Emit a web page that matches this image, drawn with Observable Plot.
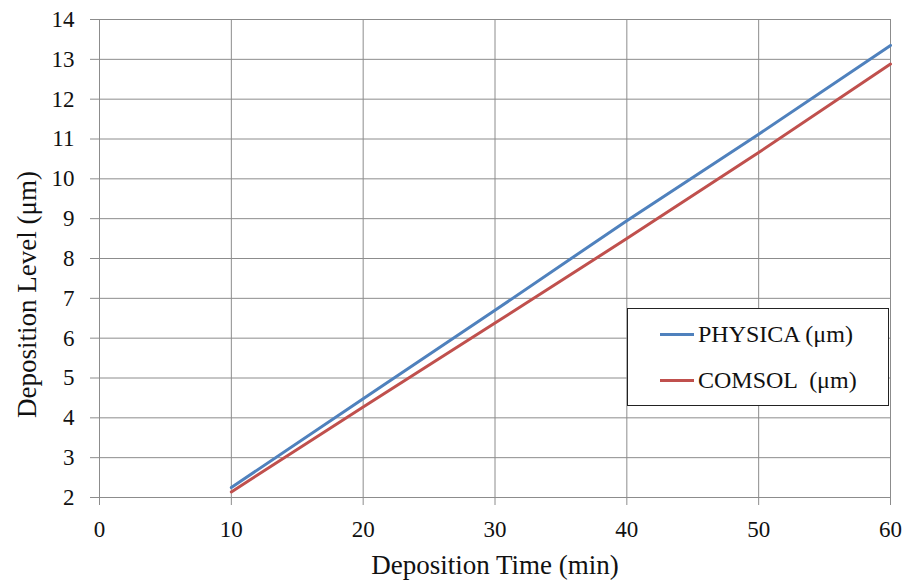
<!DOCTYPE html>
<html>
<head>
<meta charset="utf-8">
<script src="https://cdn.jsdelivr.net/npm/d3@7"></script>
<script src="https://cdn.jsdelivr.net/npm/@observablehq/plot@0.6"></script>
<style>
  html, body { margin: 0; padding: 0; background: #fff; }
  #wrap { position: relative; width: 906px; height: 585px; font-family: "Liberation Serif", "Times New Roman", serif; }
  #wrap svg g[aria-label$="tick label"], #wrap svg g[aria-label$="tick label"] text { font-size: 23px; }
  #legend { position: absolute; left: 627px; top: 308px; width: 262px; height: 98px; border: 1px solid #222; background: #fff; box-sizing: border-box; font-size: 24px; color: #111; }
  .item { position: absolute; left: 32px; display: flex; align-items: center; }
  .sw { width: 34px; height: 3px; margin-right: 4px; }
</style>
</head>
<body>
<div id="wrap"></div>
<script>
const time = [10, 20, 30, 40, 50, 60];
const physica = [2.25, 4.48, 6.70, 8.95, 11.12, 13.35];
const comsol = [2.14, 4.27, 6.38, 8.50, 10.66, 12.88];
const seriesNames = ["PHYSICA (μm)", "COMSOL  (μm)"];
const seriesColors = ["#4F81BD", "#C0504D"];
const xTicks = [0, 10, 20, 30, 40, 50, 60];
const yTicks = [2, 3, 4, 5, 6, 7, 8, 9, 10, 11, 12, 13, 14];

const rows = [];
time.forEach((t, i) => {
  rows.push({t, v: physica[i], s: seriesNames[0]});
  rows.push({t, v: comsol[i], s: seriesNames[1]});
});

const font = "'Liberation Serif', 'Times New Roman', serif";
const chart = Plot.plot({
  width: 906,
  height: 585,
  marginLeft: 99,
  marginRight: 16,
  marginTop: 19,
  marginBottom: 88,
  style: {fontFamily: font, fontSize: "23px", color: "#111", background: "#fff"},
  x: {domain: [0, 60]},
  y: {domain: [2, 14]},
  color: {domain: seriesNames, range: seriesColors},
  marks: [
    Plot.gridX(xTicks, {stroke: "#8c8c8c", strokeOpacity: 1, strokeWidth: 1}),
    Plot.gridY(yTicks, {stroke: "#8c8c8c", strokeOpacity: 1, strokeWidth: 1}),
    Plot.axisX(xTicks, {tickSize: 8, tickPadding: 15, fontSize: 23, stroke: "#8c8c8c", label: null}),
    Plot.axisY(yTicks, {tickSize: 9, tickPadding: 16, fontSize: 23, stroke: "#8c8c8c", label: null}),
    Plot.text(["Deposition Time (min)"], {frameAnchor: "bottom", dy: 76, fontSize: 27, fill: "#111"}),
    Plot.text(["Deposition Level (μm)"], {frameAnchor: "left", textAnchor: "middle", dx: -72, dy: 36, rotate: -90, fontSize: 27, fill: "#111"}),
    Plot.line(rows, {x: "t", y: "v", z: "s", stroke: "s", strokeWidth: 3})
  ]
});
document.getElementById("wrap").appendChild(chart);

const legend = document.createElement("div");
legend.id = "legend";
seriesNames.forEach((n, i) => {
  const it = document.createElement("div");
  it.className = "item";
  it.style.top = (i === 0 ? 12 : 58) + "px";
  const sw = document.createElement("span");
  sw.className = "sw";
  sw.style.background = seriesColors[i];
  const tx = document.createElement("span");
  tx.textContent = n;
  tx.style.whiteSpace = "pre";
  it.appendChild(sw); it.appendChild(tx);
  legend.appendChild(it);
});
document.getElementById("wrap").appendChild(legend);
</script>
</body>
</html>
